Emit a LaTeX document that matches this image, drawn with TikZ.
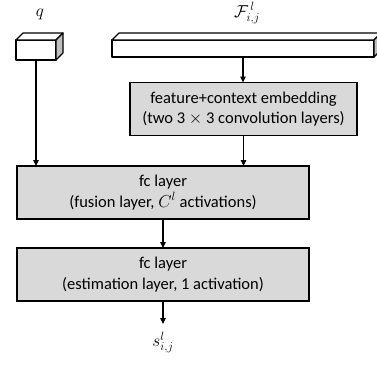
\documentclass[tikz,border=0pt]{standalone}
\usepackage{fontspec}
\setmainfont{Carlito}
\usetikzlibrary{arrows.meta}
\usetikzlibrary{positioning,calc}

\begin{document}
\begin{tikzpicture}[
    x=1pt,y=-1pt,
    font=\fontsize{16.5}{20.5}\selectfont,
    every node/.style = {inner sep=0pt,outer sep=0pt},
    layer/.style = {draw,line width=1.5pt,fill=black!15,align=center,minimum height=53pt},
    face/.style = {draw,line width=1.2pt,line join=round},
    sym/.style = {font=\fontsize{18.5}{20}\selectfont},
    flow/.style = {line width=1.1pt,-{Triangle[length=6pt,width=5.5pt]}},
    ]
    \useasboundingbox (0,0) rectangle (377,367);
    % inputs
    \node[sym] (q-label) at (40,14) {$q$};
    \node[sym] (F-label) at (247,13) {$\mathcal{F}^{\,l}_{i,j}$};
    \node[face,fill=white,minimum width=40pt,minimum height=20pt] (q-box) at (36,50) {};
    \draw[face,fill=white] (q-box.north west) -- ++(7,-7) -- ++(40,0) -- (q-box.north east) -- cycle;
    \draw[face,fill=black!25] (q-box.north east) -- ++(7,-7) -- ++(0,20) -- (q-box.south east) -- cycle;
    \node[face,fill=white,minimum width=262pt,minimum height=17pt] (F-box) at (243,48.5) {};
    \draw[face,fill=white] (F-box.north west) -- ++(7,-7) -- ++(262,0) -- (F-box.north east) -- cycle;
    \draw[face,fill=black!25] (F-box.north east) -- ++(7,-7) -- ++(0,17) -- (F-box.south east) -- cycle;
    % layers
    \node[layer,minimum width=227pt] (embed) at (243.5,109) {feature+context embedding\\(two 3 $\times$ 3 convolution layers)};
    \node[layer,minimum width=292pt] (fusion) at (163,192.5) {fc layer\\(fusion layer, $C^{l}$ activations)};
    \node[layer,minimum width=292pt,below=29pt of fusion] (estim) {fc layer\\(estimation layer, 1 activation)};
    \node[sym,below=31pt of estim] (s-label) {$s^{l}_{i,j}$};
    % arrows
    \draw[flow] (q-box.south) -- (q-box.south |- fusion.north);
    \draw[flow] (F-box.south) -- (F-box.south |- embed.north);
    \draw[flow] (embed.south) -- (embed.south |- fusion.north);
    \draw[flow] (fusion) -- (estim);
    \draw[flow,shorten >=8pt] (estim) -- (s-label);
\end{tikzpicture}
\end{document}
